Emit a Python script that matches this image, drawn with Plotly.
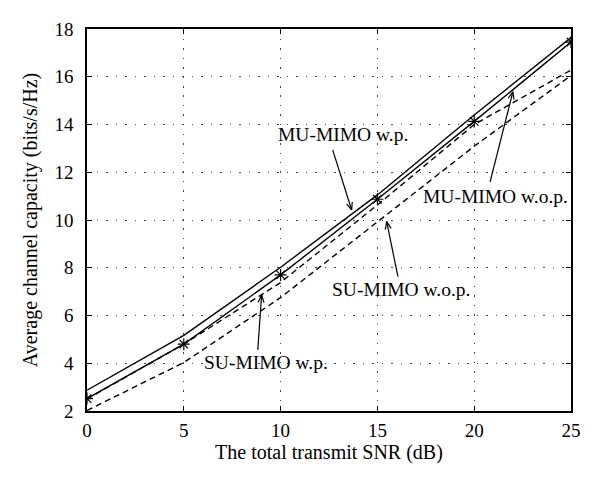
import math
import plotly.graph_objects as go

snr = [0, 5, 10, 15, 20, 25]
mu_wp = [2.87, 5.17, 8.02, 11.05, 14.4, 17.64]
su_wp = [2.52, 4.8, 7.7, 10.87, 14.13, 17.45]
mu_wop = [2.5, 4.8, 7.38, 10.63, 14.0, 16.28]
su_wop = [2.02, 4.03, 6.75, 9.93, 13.09, 16.05]

x_ticks = [0, 5, 10, 15, 20, 25]
y_ticks = [2, 4, 6, 8, 10, 12, 14, 16, 18]

labels = ["MU-MIMO w.p.", "MU-MIMO w.o.p.", "SU-MIMO w.o.p.", "SU-MIMO w.p."]
label_x = [13.2, 21.1, 16.22, 9.27]
label_y = [13.57, 10.97, 7.07, 4.05]
arrow_tail_x = [12.69, 20.82, 16.06, 8.82]
arrow_tail_y = [12.94, 11.60, 7.63, 4.56]
arrow_tip_x = [13.67, 22.0, 15.48, 9.02]
arrow_tip_y = [10.42, 15.37, 9.93, 6.86]

FONT = "Liberation Serif"
# page body has an 8px default margin; size the figure to fill the window
W, H = 592, 477
ML, MR, MT, MB = 79, 29, 21, 74
XR = [0, 25]
YR = [2, 18]
pxx = (W - ML - MR) / (XR[1] - XR[0])
pxy = (H - MT - MB) / (YR[1] - YR[0])

fig = go.Figure()
line_w = 1.4
fig.add_trace(go.Scatter(x=snr, y=mu_wp, mode="lines", name="MU-MIMO w.p.",
                         line=dict(color="black", width=line_w)))
fig.add_trace(go.Scatter(x=snr, y=su_wp, mode="lines+markers", name="SU-MIMO w.p.",
                         line=dict(color="black", width=line_w),
                         marker=dict(symbol="asterisk-open", size=10,
                                     line=dict(color="black", width=1.2))))
fig.add_trace(go.Scatter(x=snr, y=mu_wop, mode="lines", name="MU-MIMO w.o.p.",
                         line=dict(color="black", width=line_w, dash="6px,4px")))
fig.add_trace(go.Scatter(x=snr, y=su_wop, mode="lines", name="SU-MIMO w.o.p.",
                         line=dict(color="black", width=line_w, dash="6px,4px")))

shapes = []
annotations = []
for t, lx, ly, tx, ty, hx, hy in zip(labels, label_x, label_y, arrow_tail_x,
                                     arrow_tail_y, arrow_tip_x, arrow_tip_y):
    annotations.append(dict(x=lx, y=ly, xref="x", yref="y", text=t,
                            showarrow=False, font=dict(family=FONT, size=19.5, color="black")))
    shapes.append(dict(type="line", xref="x", yref="y", x0=tx, y0=ty, x1=hx, y1=hy,
                       line=dict(color="black", width=1.2)))
    # V-shaped arrow head computed in pixel space
    dxp = (hx - tx) * pxx
    dyp = (hy - ty) * pxy
    L = math.hypot(dxp, dyp)
    ux, uy = dxp / L, dyp / L
    hl = 8
    for ang in (0.38, -0.38):
        ca, sa = math.cos(ang), math.sin(ang)
        bx = -(ux * ca - uy * sa) * hl
        by = -(ux * sa + uy * ca) * hl
        shapes.append(dict(type="line", xref="x", yref="y", x0=hx, y0=hy,
                           x1=hx + bx / pxx, y1=hy + by / pxy,
                           line=dict(color="black", width=1.2)))

axis_common = dict(
    showline=True, linecolor="black", linewidth=1.5, mirror="ticks",
    ticks="inside", ticklen=5, tickwidth=1, tickcolor="black",
    showgrid=True, gridcolor="#444444", gridwidth=1, griddash="1.5px,8px",
    zeroline=False, tickfont=dict(family=FONT, size=19, color="black"),
)

fig.update_layout(
    width=W, height=H,
    margin=dict(l=ML, r=MR, t=MT, b=MB),
    paper_bgcolor="white", plot_bgcolor="white",
    showlegend=False,
    shapes=shapes, annotations=annotations,
    font=dict(family=FONT, size=19, color="black"),
    xaxis=dict(range=XR, tickvals=x_ticks, ticklabelstandoff=1,
               title=dict(text="The total transmit SNR (dB)", standoff=4,
                          font=dict(family=FONT, size=20, color="black")),
               **axis_common),
    yaxis=dict(range=YR, tickvals=y_ticks, ticklabelstandoff=8,
               title=dict(text="Average channel capacity (bits/s/Hz)", standoff=11,
                          font=dict(family=FONT, size=20, color="black")),
               **axis_common),
)

fig.write_html("out.html")
